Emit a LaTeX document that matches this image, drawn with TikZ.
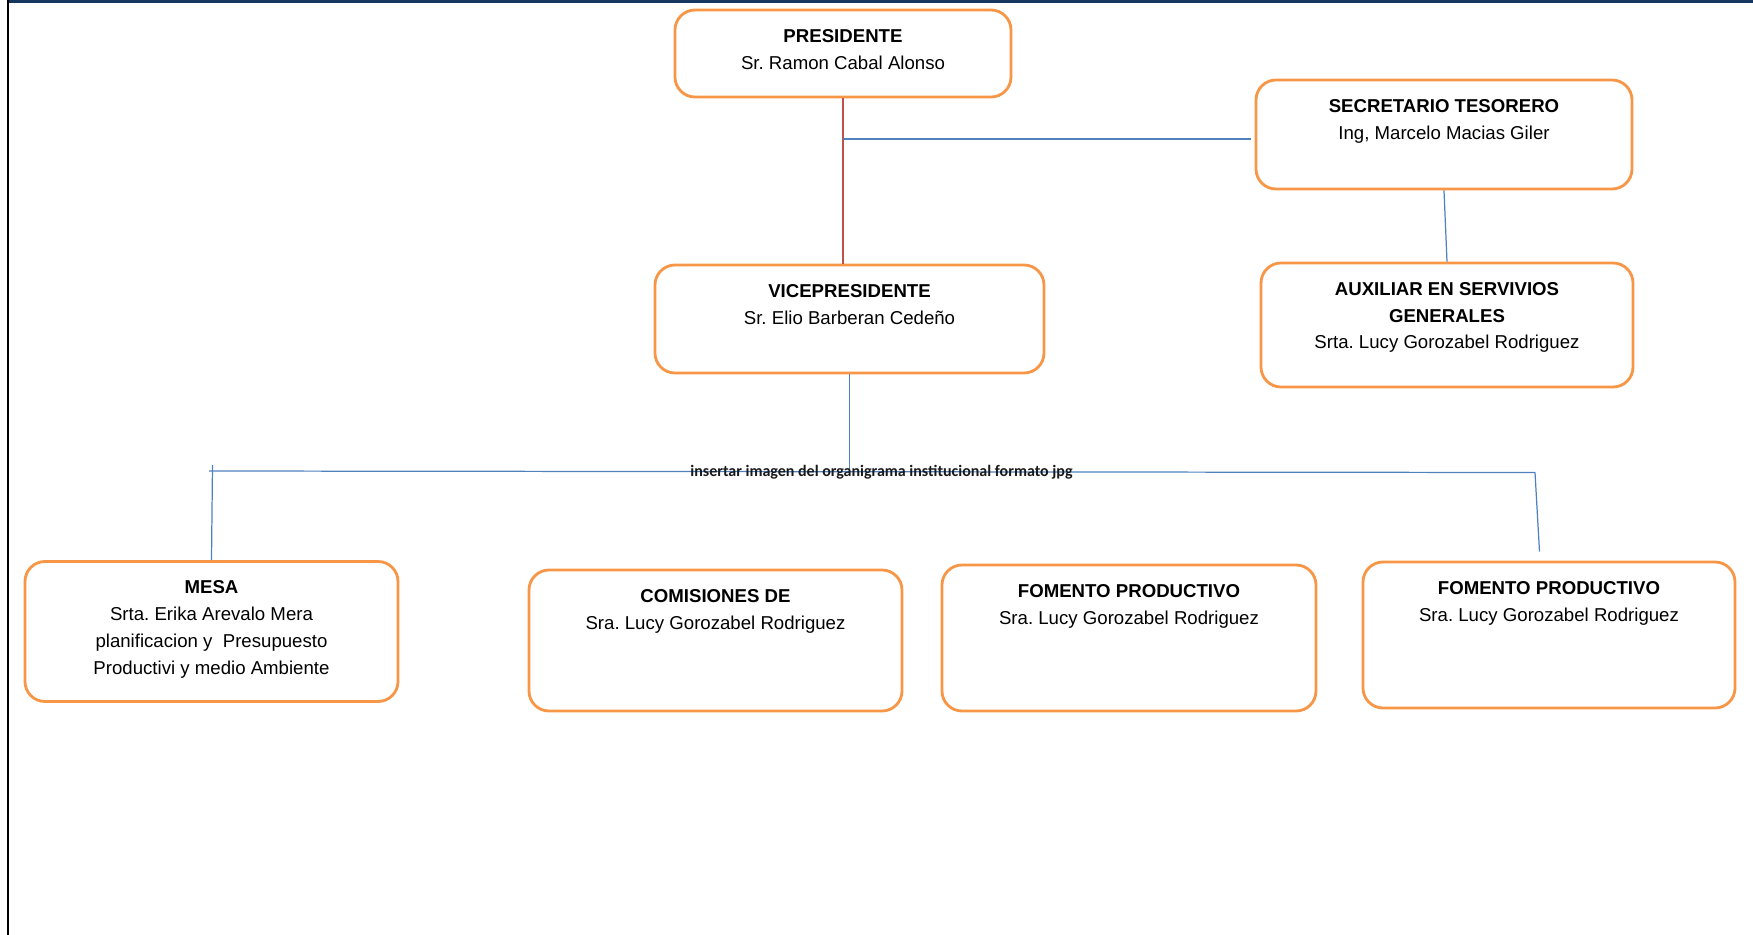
\documentclass[tikz,border=0pt]{standalone}
\usepackage{fontspec}
\setmainfont{Liberation Sans}
\newfontfamily\calibri{Carlito}
\usepackage{xcolor}
\usetikzlibrary{positioning,calc}
\frenchspacing

\definecolor{boxorange}{HTML}{F79646}
\definecolor{lineblue}{HTML}{4F81BD}
\definecolor{linered}{HTML}{C0504D}
\definecolor{barnavy}{HTML}{17365D}

\tikzset{
  box/.style={draw=boxorange, line width=1.6pt, rounded corners=0.4cm, inner sep=0pt},
  boxtext/.style={inner sep=0pt, align=center, font=\fontsize{10.6}{15.2}\selectfont},
  link/.style={draw=lineblue, line width=0.7pt},
}

\begin{document}
\begin{tikzpicture}
    \useasboundingbox (0,0) rectangle (35.06,-18.70);
    % frame
    \fill[barnavy] (0.18,0) rectangle (35.06,-0.06);
    \fill[black] (0.14,0) rectangle (0.18,-18.70);

    % Boxes
    \node[box, minimum width=6.72cm, minimum height=1.74cm] (pres) at (16.86,-1.07) {};
    \node[box, minimum width=7.52cm, minimum height=2.18cm] (sec) at (28.88,-2.69) {};
    \node[box, minimum width=7.78cm, minimum height=2.16cm] (vice) at (16.99,-6.38) {};
    \node[box, minimum width=7.44cm, minimum height=2.48cm] (aux) at (28.94,-6.50) {};
    \node[box, minimum width=7.46cm, minimum height=2.80cm] (mesa) at (4.23,-12.63) {};
    \node[box, minimum width=7.46cm, minimum height=2.82cm] (com) at (14.31,-12.81) {};
    \node[box, minimum width=7.48cm, minimum height=2.92cm] (fom1) at (22.58,-12.76) {};
    \node[box, minimum width=7.44cm, minimum height=2.92cm] (fom2) at (30.98,-12.70) {};

    % Texts
    \node[boxtext, below=0.41cm of pres.north] (presT) {\textbf{PRESIDENTE}\\Sr. Ramon Cabal Alonso};
    \node[boxtext, below=0.41cm of sec.north] (secT) {\textbf{SECRETARIO TESORERO}\\Ing, Marcelo Macias Giler};
    \node[boxtext, below=0.41cm of vice.north] (viceT) {\textbf{VICEPRESIDENTE}\\Sr. Elio Barberan Cedeño};
    \node[boxtext, below=0.41cm of aux.north] (auxT) {\textbf{AUXILIAR EN SERVIVIOS}\\\textbf{GENERALES}\\Srta. Lucy Gorozabel Rodriguez};
    \node[boxtext, below=0.41cm of mesa.north] (mesaT) {\textbf{MESA}\\Srta. Erika Arevalo Mera\\planificacion y~ Presupuesto\\Productivi y medio Ambiente};
    \node[boxtext, below=0.41cm of com.north] (comT) {\textbf{COMISIONES DE}\\Sra. Lucy Gorozabel Rodriguez};
    \node[boxtext, below=0.41cm of fom1.north] (fom1T) {\textbf{FOMENTO PRODUCTIVO}\\Sra. Lucy Gorozabel Rodriguez};
    \node[boxtext, below=0.41cm of fom2.north] (fom2T) {\textbf{FOMENTO PRODUCTIVO}\\Sra. Lucy Gorozabel Rodriguez};

    % free ends of the lines
    \coordinate (secL) at (25.01,-2.78);
    \coordinate (busL) at (4.18,-9.42);
    \coordinate (busR) at (30.70,-9.45);
    \coordinate (mesaTop) at (4.25,-9.30);
    \coordinate (fomEnd) at (30.79,-11.03);

    % Lines
    \draw[linered, line width=0.7pt] (pres.south) -- (pres.south |- vice.north);
    \draw[link] (pres.south |- secL) -- (secL);
    \draw[link] (sec.south) -- (aux.north);
    \draw[link] (vice.south) -- (vice.south |- busL);
    \draw[link] (busL) -- (busR);
    \draw[link] (mesaTop) -- (mesa.north);
    \draw[link] (busR) -- (fomEnd);

    \node[inner sep=0pt, font=\calibri\bfseries\fontsize{9.1}{11}\selectfont, text=black!90] (note) at (17.63,-9.44) {insertar imagen del organigrama institucional formato jpg};
\end{tikzpicture}
\end{document}
